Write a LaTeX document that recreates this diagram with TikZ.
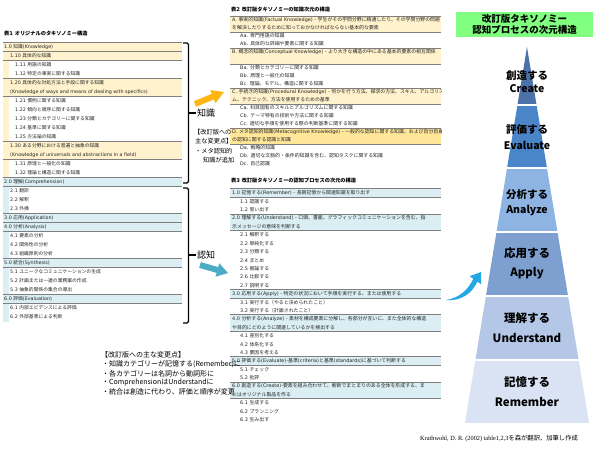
\documentclass[tikz,border=0pt]{standalone}
\usepackage{fontspec}
\setmainfont{DejaVu Sans}
\newfontfamily\latfam{DejaVu Sans}
\newfontfamily\jpfam{Noto Sans CJK JP}
\newfontfamily\citeserif{Liberation Serif}

% Japanese runs in Noto, Latin runs in DejaVu
\XeTeXinterchartokenstate=1
\newXeTeXintercharclass\jpclass
\count255="3000
\loop \XeTeXcharclass\count255=\jpclass \ifnum\count255<"30FF \advance\count255 1 \repeat
\count255="3400
\loop \XeTeXcharclass\count255=\jpclass \ifnum\count255<"9FFF \advance\count255 1 \repeat
\count255="FF00
\loop \XeTeXcharclass\count255=\jpclass \ifnum\count255<"FFEF \advance\count255 1 \repeat
\XeTeXinterchartoks 0 \jpclass = {\jpfam}
\XeTeXinterchartoks 4095 \jpclass = {\jpfam}
\XeTeXinterchartoks \jpclass 0 = {\latfam}
\newcommand\plainjp{\XeTeXinterchartokenstate=0 \jpfam}

\definecolor{yellowband}{HTML}{FFF2CC}
\definecolor{metaband}{HTML}{FFE699}
\definecolor{cyanband}{HTML}{DAEEF3}
\definecolor{rulegray}{HTML}{7F7F7F}
\definecolor{arrowgold}{HTML}{FFB612}
\definecolor{arrowteal}{HTML}{4BACC6}
\definecolor{arrowsky}{HTML}{25A7E3}
\definecolor{titlegreen}{HTML}{80FF80}
\definecolor{lvcreate}{HTML}{4D72AA}
\definecolor{lvevaluate}{HTML}{4A85C9}
\definecolor{lvanalyze}{HTML}{8EB4E3}
\definecolor{lvapply}{HTML}{7EA0D0}
\definecolor{lvunderstand}{HTML}{B4C7E7}
\definecolor{lvremember}{HTML}{DAE3F3}

\tikzset{
  orig/.style={anchor=west, inner sep=0pt, text=black!85, font=\fontsize{4.8}{5}\selectfont},
  revd/.style={anchor=west, inner sep=0pt, text=black!85, font=\fontsize{4.9}{5}\selectfont},
  tabtitle/.style={anchor=west, inner sep=0pt, font=\bfseries\fontsize{5.2}{6}\selectfont},
  rule/.style={draw=rulegray, line width=0.9pt},
  note/.style={anchor=west, inner sep=0pt, font=\plainjp\fontsize{6.2}{7}\selectfont},
  sumline/.style={anchor=west, inner sep=0pt, font=\plainjp\fontsize{7}{8}\selectfont},
  bigword/.style={anchor=west, inner sep=0pt, font=\plainjp\fontsize{9}{10}\selectfont},
  layertxt/.style={inner sep=0pt, font=\plainjp\bfseries\fontsize{10.5}{11}\selectfont},
  layerbig/.style={inner sep=0pt, font=\plainjp\bfseries\fontsize{11.5}{12}\selectfont},
}

\begin{document}
\begin{tikzpicture}[x=1pt,y=-1pt]
\fill[white] (0,0) rectangle (599,451);
\useasboundingbox (0,0) rectangle (599,451);

% table 1
\node[tabtitle] (tab1) at (4,34) {表1 オリジナルのタキソノミー構造};
\fill[yellowband] (3,42.5) rectangle (9,177.5);
\fill[yellowband] (3,42.5) rectangle (182,60.5);
\fill[yellowband] (3,78.5) rectangle (182,96.5);
\fill[yellowband] (3,141.5) rectangle (182,159.5);
\fill[cyanband] (3,177.5) rectangle (9,321.5);
\fill[cyanband] (3,177.5) rectangle (182,186.5);
\fill[cyanband] (3,213.5) rectangle (182,231.5);
\fill[cyanband] (3,258.5) rectangle (182,267.5);
\fill[cyanband] (3,294.5) rectangle (182,303.5);
\draw[rule] (3,42.5) -- (182,42.5);
\draw[rule] (3,51.5) -- (182,51.5);
\draw[rule] (3,60.5) -- (182,60.5);
\draw[rule] (3,78.5) -- (182,78.5);
\draw[rule] (3,96.5) -- (182,96.5);
\draw[rule] (3,141.5) -- (182,141.5);
\draw[rule] (3,159.5) -- (182,159.5);
\draw[rule] (3,177.5) -- (182,177.5);
\draw[rule] (3,186.5) -- (182,186.5);
\draw[rule] (3,213.5) -- (182,213.5);
\draw[rule] (3,222.5) -- (182,222.5);
\draw[rule] (3,231.5) -- (182,231.5);
\draw[rule] (3,258.5) -- (182,258.5);
\draw[rule] (3,267.5) -- (182,267.5);
\draw[rule] (3,294.5) -- (182,294.5);
\draw[rule] (3,303.5) -- (182,303.5);
\node[orig] (o10) at (4,47) {1.0 知識(Knowledge)};
\node[orig] (o110) at (10,56) {1.10 具体的な知識};
\node[orig] (o111) at (15,65) {1.11 用語の知識};
\node[orig] (o112) at (15,74) {1.12 特定の事実に関する知識};
\node[orig] (o120) at (10,83) {1.20 具体的な対処方法と手段に関する知識};
\node[orig] (o120b) at (10,92) {(Knowledge of ways and means of dealing with specifics)};
\node[orig] (o121) at (15,101) {1.21 慣例に関する知識};
\node[orig] (o122) at (15,110) {1.22 傾向と順序に関する知識};
\node[orig] (o123) at (15,119) {1.23 分類とカテゴリーに関する知識};
\node[orig] (o124) at (15,128) {1.24 基準に関する知識};
\node[orig] (o125) at (15,137) {1.25 方法論の知識};
\node[orig] (o130) at (10,146) {1.30 ある分野における普遍と抽象の知識};
\node[orig] (o130b) at (10,155) {(Knowledge of universals and abstractions in a field)};
\node[orig] (o131) at (15,164) {1.31 原理と一般化の知識};
\node[orig] (o132) at (15,173) {1.32 理論と構造に関する知識};
\node[orig] (o20) at (4,182) {2.0 理解(Comprehension)};
\node[orig] (o21) at (10,191) {2.1 翻訳};
\node[orig] (o22) at (10,200) {2.2 解釈};
\node[orig] (o23) at (10,209) {2.3 外挿};
\node[orig] (o30) at (4,218) {3.0 応用(Application)};
\node[orig] (o40) at (4,227) {4.0 分析(Analysis)};
\node[orig] (o41) at (10,236) {4.1 要素の分析};
\node[orig] (o42) at (10,245) {4.2 関係性の分析};
\node[orig] (o43) at (10,254) {4.3 組織原則の分析};
\node[orig] (o50) at (4,263) {5.0 統合(Synthesis)};
\node[orig] (o51) at (10,272) {5.1 ユニークなコミュニケーションの生成};
\node[orig] (o52) at (10,281) {5.2 計画または一連の業務案の作成};
\node[orig] (o53) at (10,290) {5.3 抽象的関係の集合の導出};
\node[orig] (o60) at (4,299) {6.0 評価(Evaluation)};
\node[orig] (o61) at (10,308) {6.1 内部エビデンスによる評価};
\node[orig] (o62) at (10,317) {6.2 外部基準による判断};

% braces
\draw[line width=1.1pt, rounded corners=1.5pt] (183,43) -| (188.5,113) |- (183,183);
\draw[line width=1.1pt] (188.5,113) -- (196,113);
\draw[line width=1.1pt, rounded corners=1.5pt] (183,188) -| (188.5,255) |- (183,323);
\draw[line width=1.1pt] (188.5,255) -- (196,255);
\node[bigword] (know) at (197,113) {知識};
\node[bigword] (cogn) at (197,255) {認知};

% block arrows
\fill[arrowgold] (193.9,101.2) -- (211.8,93.8) -- (210.2,90.1) -- (224,92) -- (215.6,103.1) -- (214.0,99.4) -- (196.1,106.8) -- cycle;
\fill[arrowteal] (200.8,262.1) -- (218.2,267.1) -- (219.3,263.3) -- (228,273) -- (215.5,276.7) -- (216.6,272.9) -- (199.2,267.9) -- cycle;

% tables 2 and 3
\node[tabtitle] (tab2) at (231,10) {表2 改訂版タキソノミーの知識次元の構造};
\node[tabtitle] (tab3) at (231,181) {表3 改訂版タキソノミーの認知プロセスの次元の構造};
\begin{scope}
\clip (228,0) rectangle (441,451);
\fill[yellowband] (230,16) rectangle (441,32);
\fill[yellowband] (230,48) rectangle (441,64);
\fill[yellowband] (230,88) rectangle (441,104);
\fill[metaband] (230,128) rectangle (441,144);
\draw[rule] (230,16) -- (441,16);
\draw[rule] (230,32) -- (441,32);
\draw[rule] (230,48) -- (441,48);
\draw[rule] (230,64) -- (441,64);
\draw[rule] (230,88) -- (441,88);
\draw[rule] (230,104) -- (441,104);
\draw[rule] (230,128) -- (441,128);
\draw[rule] (230,144) -- (441,144);
\node[revd] (kA) at (232,20) {A. 事実的知識(Factual Knowledge) - 学生がその学問分野に精通したり、その学問分野の問題};
\node[revd] (kA2) at (232,28) {を解決したりするために知っておかなければならない基本的な要素};
\node[revd] (kAa) at (240,36) {Aa. 専門用語の知識};
\node[revd] (kAb) at (240,44) {Ab. 具体的な詳細や要素に関する知識};
\node[revd] (kB) at (232,52) {B. 概念的知識(Conceptual Knowledge) - より大きな構造の中にある基本的要素の相互関係};
\node[revd] (kBa) at (240,68) {Ba. 分類とカテゴリーに関する知識};
\node[revd] (kBb) at (240,76) {Bb. 原理と一般化の知識};
\node[revd] (kBc) at (240,84) {Bc. 理論、モデル、構造に関する知識};
\node[revd] (kC) at (232,92) {C. 手続き的知識(Procedural Knowledge) - 何かを行う方法、探求の方法、スキル、アルゴリズ};
\node[revd] (kC2) at (232,100) {ム、テクニック、方法を使用するための基準};
\node[revd] (kCa) at (240,108) {Ca. 科目固有のスキルとアルゴリズムに関する知識};
\node[revd] (kCb) at (240,116) {Cb. テーマ特有の技術や方法に関する知識};
\node[revd] (kCc) at (240,124) {Cc. 適切な手順を使用する際の判断基準に関する知識};
\node[revd] (kD) at (232,132) {D. メタ認知的知識(Metacognitive Knowledge) - 一般的な認知に関する知識、および自分自身};
\node[revd] (kD2) at (232,140) {の認知に関する認識と知識};
\node[revd] (kDa) at (240,148) {Da. 戦略的知識};
\node[revd] (kDb) at (240,156) {Db. 適切な文脈的・条件的知識を含む、認知タスクに関する知識};
\node[revd] (kDc) at (240,164) {Dc. 自己認識};

\fill[cyanband] (230,188.8) rectangle (441,197.2);
\fill[cyanband] (230,214) rectangle (441,230.8);
\fill[cyanband] (230,289.6) rectangle (441,298);
\fill[cyanband] (230,314.8) rectangle (441,331.6);
\fill[cyanband] (230,356.8) rectangle (441,365.2);
\fill[cyanband] (230,382) rectangle (441,398.8);
\draw[rule] (230,188.8) -- (441,188.8);
\draw[rule] (230,197.2) -- (441,197.2);
\draw[rule] (230,214) -- (441,214);
\draw[rule] (230,230.8) -- (441,230.8);
\draw[rule] (230,289.6) -- (441,289.6);
\draw[rule] (230,298) -- (441,298);
\draw[rule] (230,314.8) -- (441,314.8);
\draw[rule] (230,331.6) -- (441,331.6);
\draw[rule] (230,356.8) -- (441,356.8);
\draw[rule] (230,365.2) -- (441,365.2);
\draw[rule] (230,382) -- (441,382);
\draw[rule] (230,398.8) -- (441,398.8);
\node[revd] (p10) at (232,193) {1.0 記憶する(Remember) - 長期記憶から関連知識を取り出す};
\node[revd] (p11) at (240,201.4) {1.1 認識する};
\node[revd] (p12) at (240,209.8) {1.2 思い出す};
\node[revd] (p20) at (232,218.2) {2.0 理解する(Understand) - 口頭、書面、グラフィックコミュニケーションを含む、指};
\node[revd] (p20b) at (232,226.6) {示メッセージの意味を判断する};
\node[revd] (p21) at (240,235) {2.1 解釈する};
\node[revd] (p22) at (240,243.4) {2.2 単純化する};
\node[revd] (p23) at (240,251.8) {2.3 分類する};
\node[revd] (p24) at (240,260.2) {2.4 まとめ};
\node[revd] (p25) at (240,268.6) {2.5 推論する};
\node[revd] (p26) at (240,277) {2.6 比較する};
\node[revd] (p27) at (240,285.4) {2.7 説明する};
\node[revd] (p30) at (232,293.8) {3.0 応用する(Apply) - 特定の状況において手順を実行する、または使用する};
\node[revd] (p31) at (240,302.2) {3.1 実行する（やると決められたこと）};
\node[revd] (p32) at (240,310.6) {3.2 実行する（計画されたこと）};
\node[revd] (p40) at (232,319) {4.0 分析する(Analyze) - 素材を構成要素に分解し、各部分が互いに、また全体的な構造};
\node[revd] (p40b) at (232,327.4) {や目的にどのように関連しているかを検出する};
\node[revd] (p41) at (240,335.8) {4.1 差別化する};
\node[revd] (p42) at (240,344.2) {4.2 体系化する};
\node[revd] (p43) at (240,352.6) {4.3 要因を考える};
\node[revd] (p50) at (232,361) {5.0 評価する(Evaluate)-基準(criteria)と基準(standards)に基づいて判断する};
\node[revd] (p51) at (240,369.4) {5.1 チェック};
\node[revd] (p52) at (240,377.8) {5.2 批評};
\node[revd] (p60) at (232,386.2) {6.0 創造する(Create)-要素を組み合わせて、斬新でまとまりのある全体を形成する、ま};
\node[revd] (p60b) at (232,394.6) {たはオリジナル製品を作る};
\node[revd] (p61) at (240,403) {6.1 生成する};
\node[revd] (p62) at (240,411.4) {6.2 プランニング};
\node[revd] (p63) at (240,419.8) {6.3 生み出す};
\end{scope}

% change notes
\node[note] (chg1) at (194,132) {【改訂版への};
\node[note] (chg2) at (195,141.5) {主な変更点】};
\node[note] (chg3) at (195,151) {・メタ認知的};
\node[note] (chg4) at (203,160) {知識が追加};
\node[sumline] (sum0) at (101,355) {【改訂版への主な変更点】};
\node[sumline] (sum1) at (102,364.5) {・知識カテゴリーが記憶する(Remember)に};
\node[sumline] (sum2) at (102,373.5) {・各カテゴリーは名詞から動詞形に};
\node[sumline] (sum3) at (102,382.5) {・ComprehensionはUnderstandに};
\node[sumline] (sum4) at (102,391.5) {・統合は創造に代わり、評価と順序が変更};

% pyramid
\fill[titlegreen] (456,12) rectangle (593,37);
\node[inner sep=0pt, align=center, font=\plainjp\bfseries\fontsize{9.5}{11}\selectfont] (head) at (524.5,24.5) {改訂版タキソノミー\\認知プロセスの次元構造};
\begin{scope}
\clip (527,47) -- (589,423) -- (465,423) -- cycle;
\fill[lvcreate] (460,40) rectangle (595,104.3);
\fill[lvevaluate] (460,105.7) rectangle (595,167.3);
\fill[lvanalyze] (460,168.7) rectangle (595,231.3);
\fill[lvapply] (460,232.7) rectangle (595,295.3);
\fill[lvunderstand] (460,296.7) rectangle (595,359.3);
\fill[lvremember] (460,360.7) rectangle (595,423);
\end{scope}
\node[layertxt] (cre1) at (527,75) {創造する};
\node[layertxt] (cre2) at (527,88.5) {Create};
\node[layertxt] (eva1) at (527,130) {評価する};
\node[layertxt] (eva2) at (527,145) {Evaluate};
\node[layertxt] (ana1) at (527,195) {分析する};
\node[layertxt] (ana2) at (527,210) {Analyze};
\node[layerbig] (app1) at (527,253) {応用する};
\node[layerbig] (app2) at (527,273) {Apply};
\node[layerbig] (und1) at (527,318) {理解する};
\node[layerbig] (und2) at (527,338) {Understand};
\node[layerbig] (rem1) at (527,382) {記憶する};
\node[layerbig] (rem2) at (527,402) {Remember};
\fill[arrowsky] (446,300) .. controls (459,298) and (468,290) .. (473.3,278.8) -- (469.6,276.2) -- (481,272) -- (481,284.2) -- (477.4,281.6) .. controls (472,294) and (460,301.5) .. (446,300) -- cycle;

\node[anchor=west, inner sep=0pt, font=\fontsize{6.3}{7}\selectfont] (src) at (420,438) {{\citeserif Krathwohl, D. R. (2002) table1,2,3}を森が翻訳、加筆し作成};
\end{tikzpicture}
\end{document}
